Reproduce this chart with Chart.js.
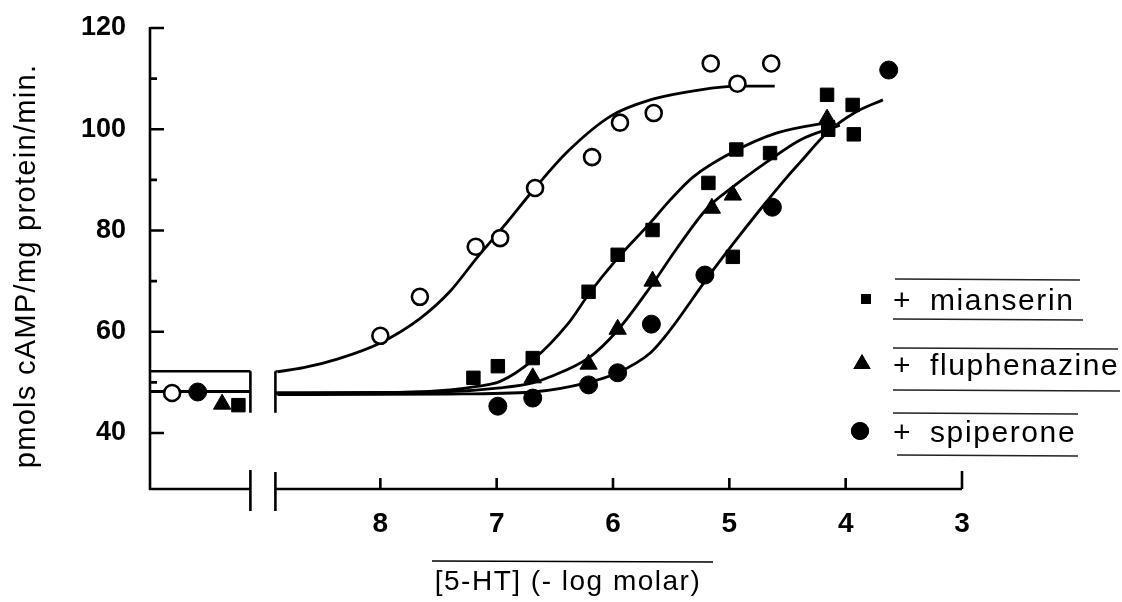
<!DOCTYPE html>
<html><head><meta charset="utf-8">
<script src="https://cdn.jsdelivr.net/npm/chart.js@4.4.1/dist/chart.umd.min.js"></script>
<style>html,body{margin:0;padding:0;background:#fff}#wrap{width:1122px;height:602px;position:relative}</style>
</head><body><div id="wrap"><canvas id="c" width="1122" height="602"></canvas></div>
<script>
// ---- axis ticks (x = -log molar, reversed) ----
const xTickValues = [8, 7, 6, 5, 4, 3];
const yTickValues = [40, 60, 80, 100, 120];
const yMinorTickValues = [50, 70, 90, 110];
const xLeftLimit = 9.98;      // left end of the broken-off control segment
const breakLeft = 9.117;      // end of control segment
const breakRight = 8.902;     // start of concentration segment
const yMin = 28.94, yMax = 120;

// ---- legend ----
const seriesNames = ['mianserin', 'fluphenazine', 'spiperone'];

// ---- control (no 5-HT) values, order: 5-HT alone, mianserin, fluphenazine, spiperone ----
const controlPosX = [9.79, 9.22, 9.36, 9.57];
const controlY = [47.9, 45.5, 45.7, 48.1];
const controlBandY = [52.2, 48.2];
const controlBandBottom = 44.0;

// ---- 5-HT alone (open circles) ----
const htX = [8.0, 7.66, 7.18, 6.97, 6.67, 6.18, 5.94, 5.65, 5.16, 4.93, 4.64];
const htY = [59.2, 66.9, 76.8, 78.5, 88.4, 94.5, 101.3, 103.2, 113.0, 109.0, 113.0];
const htCurveX = [8.885, 8.66, 8.37, 8.0, 7.66, 7.40, 7.17, 6.94, 6.67, 6.39, 6.02, 5.68, 5.25, 4.93, 4.61];
const htCurveY = [52.1, 52.9, 54.6, 57.8, 62.6, 68.0, 74.6, 80.8, 88.4, 95.6, 102.6, 105.8, 107.8, 108.5, 108.5];

// ---- + mianserin (squares) ----
const miaX = [7.20, 6.99, 6.69, 6.21, 5.96, 5.66, 5.18, 4.94, 4.65, 4.16, 3.94, 4.15, 3.93, 4.97];
const miaY = [50.9, 53.2, 54.8, 67.9, 75.2, 80.1, 89.4, 96.0, 95.3, 106.8, 104.8, 99.9, 99.0, 74.8];
const miaCurveX = [8.885, 7.83, 7.40, 7.17, 6.97, 6.69, 6.39, 6.20, 5.98, 5.68, 5.51, 5.31, 4.97, 4.59, 4.09];
const miaCurveY = [47.9, 48.0, 48.5, 49.2, 50.2, 54.4, 61.5, 67.7, 74.0, 81.5, 86.0, 90.6, 95.5, 99.3, 101.6];

// ---- + fluphenazine (triangles) ----
const fluX = [6.69, 6.21, 5.96, 5.66, 5.15, 4.97, 4.16];
const fluY = [50.9, 53.6, 60.5, 70.0, 84.4, 87.0, 102.0];
const fluCurveX = [8.885, 7.40, 6.97, 6.69, 6.54, 6.20, 5.96, 5.68, 5.45, 5.19, 4.97, 4.68, 4.39, 4.05];
const fluCurveY = [47.9, 48.2, 48.9, 49.9, 51.1, 55.0, 60.3, 68.8, 76.5, 84.4, 88.6, 93.5, 97.9, 100.8];

// ---- + spiperone (filled circles) ----
const spiX = [6.99, 6.69, 6.21, 5.96, 5.67, 5.21, 4.63, 3.63];
const spiY = [45.3, 46.9, 49.5, 51.9, 61.5, 71.2, 84.6, 111.7];
const spiCurveX = [8.885, 7.40, 6.69, 6.21, 5.96, 5.68, 5.51, 5.19, 4.97, 4.74, 4.51, 4.39, 4.16, 3.92, 3.68];
const spiCurveY = [47.6, 47.7, 48.1, 50.0, 51.9, 55.8, 60.3, 70.6, 77.3, 84.0, 90.4, 93.5, 99.3, 103.3, 105.8];

// ---------------------------------------------------------------
const toXY = (xs, ys) => xs.map((x, i) => ({ x: x, y: ys[i] }));
const INK = '#000';
const FONT = "'Liberation Sans', Arial, Helvetica, sans-serif";
const AREA = { left: 150, top: 28, right: 962, bottom: 489 };

function curve(xs, ys) {
  return { data: toXY(xs, ys), showLine: true, pointRadius: 0, borderColor: INK,
    borderWidth: 2.8, cubicInterpolationMode: 'monotone', order: 2 };
}
function markers(xs, ys, style, fill, r) {
  return { data: toXY(xs, ys), showLine: false, pointStyle: style, pointRadius: r,
    pointBackgroundColor: fill, pointBorderColor: INK, pointBorderWidth: fill === '#fff' ? 2.6 : 1,
    order: 0 };
}
function segment(x0, x1, y0, y1, w) {
  return { data: [{ x: x0, y: y0 }, { x: x1, y: y1 }], showLine: true, pointRadius: 0,
    borderColor: INK, borderWidth: w, order: 3 };
}

const datasets = [
  curve(htCurveX, htCurveY),
  curve(miaCurveX, miaCurveY),
  curve(fluCurveX, fluCurveY),
  curve(spiCurveX, spiCurveY),
  segment(xLeftLimit, breakLeft, controlBandY[0], controlBandY[0], 2.6),
  segment(xLeftLimit, breakLeft, controlBandY[1], controlBandY[1], 3.2),
  segment(breakLeft, breakLeft, controlBandY[0], controlBandBottom, 2.6),
  segment(breakRight, breakRight, controlBandY[0], controlBandBottom, 2.6),
  segment(breakRight, htCurveX[0], controlBandY[0], htCurveY[0], 2.6),
  segment(breakRight, htCurveX[0], controlBandY[1] - 0.3, miaCurveY[0], 3.4),
  markers(htX.concat([controlPosX[0]]), htY.concat([controlY[0]]), 'circle', '#fff', 8),
  markers(miaX.concat([controlPosX[1]]), miaY.concat([controlY[1]]), 'rect', INK, 9.5),
  markers(fluX.concat([controlPosX[2]]), fluY.concat([controlY[2]]), 'triangle', INK, 10),
  markers(spiX.concat([controlPosX[3]]), spiY.concat([controlY[3]]), 'circle', INK, 9)
];

const axesPlugin = {
  id: 'brokenAxes',
  beforeDatasetsDraw(chart) {
    const { ctx, chartArea: a, scales: { x, y } } = chart;
    ctx.save();
    ctx.strokeStyle = INK; ctx.lineWidth = 2.6; ctx.lineCap = 'butt';
    ctx.beginPath();
    ctx.moveTo(a.left, a.top - 1); ctx.lineTo(a.left, a.bottom + 1);
    yTickValues.forEach(v => { const p = y.getPixelForValue(v); ctx.moveTo(a.left, p); ctx.lineTo(a.left + 14, p); });
    yMinorTickValues.forEach(v => { const p = y.getPixelForValue(v); ctx.moveTo(a.left, p); ctx.lineTo(a.left + 7, p); });
    const bl = x.getPixelForValue(breakLeft), br = x.getPixelForValue(breakRight);
    const xEnd = x.getPixelForValue(xTickValues[xTickValues.length - 1]);
    ctx.moveTo(a.left - 1, a.bottom); ctx.lineTo(bl, a.bottom);
    ctx.moveTo(br, a.bottom); ctx.lineTo(xEnd, a.bottom);
    ctx.moveTo(bl, a.bottom - 19); ctx.lineTo(bl, a.bottom + 22);
    ctx.moveTo(br, a.bottom - 17); ctx.lineTo(br, a.bottom + 22);
    xTickValues.forEach((v, i) => {
      const p = x.getPixelForValue(v);
      const len = i === xTickValues.length - 1 ? 18 : 11;
      ctx.moveTo(p, a.bottom); ctx.lineTo(p, a.bottom - len);
    });
    ctx.stroke();
    ctx.restore();
  },
  afterDraw(chart) {
    const { ctx } = chart;
    ctx.save();
    ctx.fillStyle = INK; ctx.strokeStyle = INK;
    ctx.font = '28px ' + FONT;
    ctx.letterSpacing = '1.5px';
    ctx.textAlign = 'center'; ctx.textBaseline = 'alphabetic';
    ctx.fillText('[5-HT] (- log molar)', 568, 590);
    ctx.lineWidth = 1.4;
    ctx.beginPath(); ctx.moveTo(432, 561); ctx.lineTo(713, 562); ctx.stroke();
    ctx.save();
    ctx.translate(35, 266); ctx.rotate(-Math.PI / 2);
    ctx.font = '29px ' + FONT; ctx.letterSpacing = '1.3px';
    ctx.textAlign = 'center'; ctx.textBaseline = 'alphabetic';
    ctx.fillText('pmols cAMP/mg protein/min.', 0, 0);
    ctx.restore();
    const rows = [310, 375, 442];
    const styles = [['rect', 7], ['triangle', 10], ['circle', 9]];
    const mx = [866, 862, 860];
    rows.forEach((by, i) => {
      ctx.fillStyle = INK;
      Chart.helpers.drawPoint(ctx, { pointStyle: styles[i][0], radius: styles[i][1], borderWidth: 0, rotation: 0 }, mx[i], by - 11);
      ctx.fill();
      ctx.font = '30px ' + FONT; ctx.letterSpacing = '0px'; ctx.textAlign = 'left';
      ctx.fillText('+', 893, by);
      ctx.letterSpacing = '1.6px';
      ctx.fillText(seriesNames[i], 930, by);
    });
    ctx.letterSpacing = '0px';
    ctx.lineWidth = 1.3; ctx.strokeStyle = '#222';
    const rules = [[279, 895, 1080], [319, 893, 1083], [348, 893, 1118], [390, 893, 1120], [413, 893, 1078], [455, 897, 1078]];
    ctx.beginPath();
    rules.forEach(r => { ctx.moveTo(r[1], r[0]); ctx.lineTo(r[2], r[0] + 1); });
    ctx.stroke();
    ctx.restore();
  }
};

const chart = new Chart(document.getElementById('c'), {
  type: 'scatter',
  data: { datasets: datasets },
  options: {
    responsive: false, animation: false, events: [],
    layout: { padding: { left: 0, right: 1122 - AREA.right, top: AREA.top, bottom: 0 } },
    plugins: { legend: { display: false }, tooltip: { enabled: false } },
    scales: {
      x: {
        type: 'linear', reverse: true, min: xTickValues[xTickValues.length - 1], max: xLeftLimit,
        afterBuildTicks: s => { s.ticks = xTickValues.map(v => ({ value: v })); },
        afterFit: s => { s.height = 602 - AREA.bottom; s.paddingLeft = 0; s.paddingRight = 0; },
        grid: { display: false, drawTicks: false }, border: { display: false },
        ticks: { color: INK, padding: 18, font: { family: FONT, size: 28, weight: 'bold' }, callback: v => String(v), maxRotation: 0, autoSkip: false }
      },
      y: {
        type: 'linear', min: yMin, max: yMax,
        afterBuildTicks: s => { s.ticks = yTickValues.map(v => ({ value: v })); },
        afterFit: s => { s.width = AREA.left; s.paddingTop = 0; s.paddingBottom = 0; },
        grid: { display: false, drawTicks: false }, border: { display: false },
        ticks: { color: INK, padding: 24, font: { family: FONT, size: 27, weight: 'bold' }, callback: v => String(v) }
      }
    }
  },
  plugins: [axesPlugin]
});
// nudge layout so the plotting area lands exactly on AREA
const ca = chart.chartArea;
const pad = chart.options.layout.padding;
pad.top += AREA.top - ca.top;
pad.right += ca.right - AREA.right;
pad.left += AREA.left - ca.left;
pad.bottom += ca.bottom - AREA.bottom;
chart.update();
</script>
</body></html>
